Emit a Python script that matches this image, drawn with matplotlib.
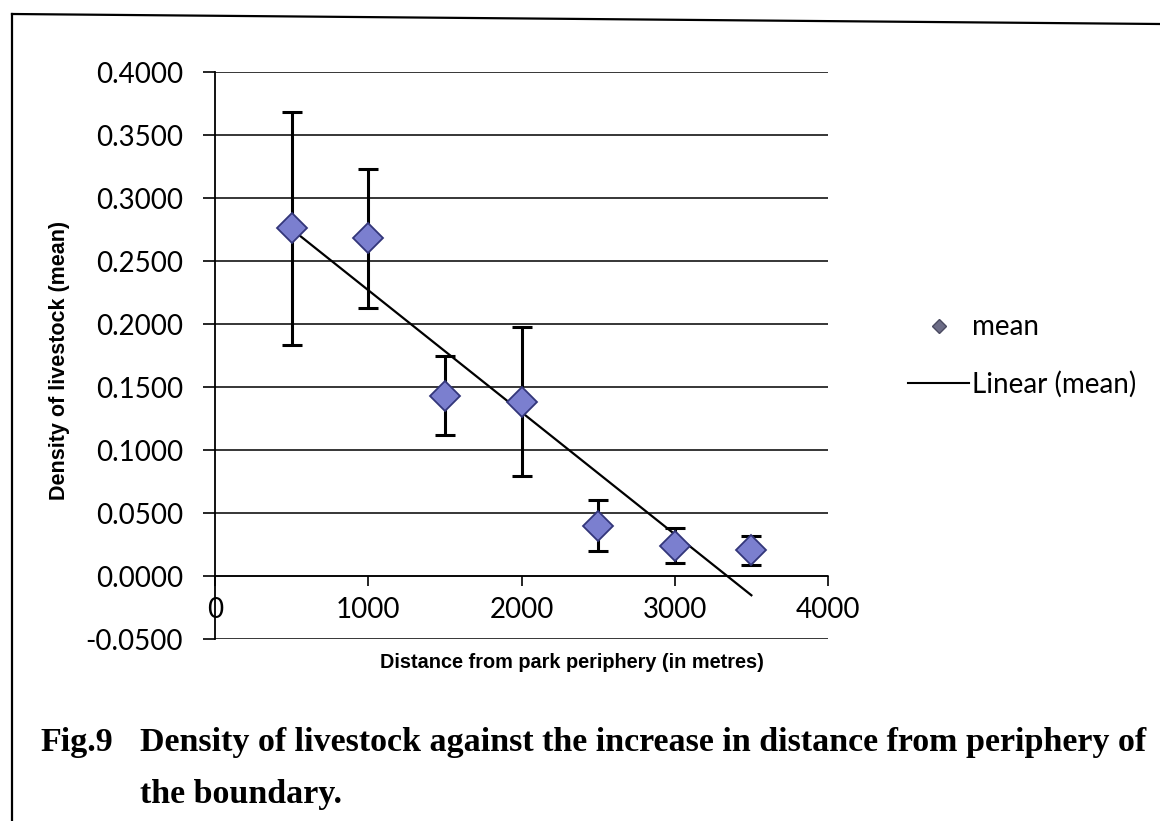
import numpy as np
import matplotlib
matplotlib.use("Agg")
import matplotlib.pyplot as plt
from matplotlib.lines import Line2D

plt.rcParams["font.family"] = ["Lato", "DejaVu Sans"]

# distance bands (m) and mean livestock density with error bar limits
distance = [500, 1000, 1500, 2000, 2500, 3000, 3500]
mean_density = [0.276, 0.268, 0.143, 0.138, 0.040, 0.024, 0.021]
upper_limit = [0.368, 0.323, 0.175, 0.198, 0.060, 0.038, 0.032]
lower_limit = [0.183, 0.213, 0.112, 0.079, 0.020, 0.010, 0.009]

y_ticks = [-0.05, 0.0, 0.05, 0.10, 0.15, 0.20, 0.25, 0.30, 0.35, 0.40]
x_ticks = [0, 1000, 2000, 3000, 4000]

x = np.array(distance)
y = np.array(mean_density)
yerr = [y - np.array(lower_limit), np.array(upper_limit) - y]

# linear trend line fitted to the means
slope, intercept = np.polyfit(x, y, 1)
trend_x = np.array([x.min(), x.max()])
trend_y = slope * trend_x + intercept

fig = plt.figure(figsize=(11.6, 8.21), dpi=100)
ax = fig.add_axes([215 / 1160, 1 - 639 / 821, 613 / 1160, 567 / 821])

for t in y_ticks:
    ax.axhline(t, color="black", lw=1.1, zorder=1)

ax.errorbar(x, y, yerr=yerr, fmt="none", ecolor="black", elinewidth=2.2,
            capsize=7, capthick=2.2, zorder=3)
ax.plot(trend_x, trend_y, color="black", lw=1.6, zorder=4)
ax.plot(x, y, linestyle="none", marker="D", markersize=15,
        markerfacecolor="#7b7fcf", markeredgecolor="#33367a",
        markeredgewidth=1.3, zorder=5)

ax.set_xlim(0, 4000)
ax.set_ylim(-0.05, 0.40)
ax.set_xticks(x_ticks)
ax.set_yticks(y_ticks)
ax.set_yticklabels([f"{v:.4f}" for v in y_ticks])

for s in ["top", "right"]:
    ax.spines[s].set_visible(False)
ax.spines["left"].set_linewidth(1.3)
ax.spines["left"].set_position(("data", 0))
ax.tick_params(axis="y", direction="out", length=9, width=1.2, pad=14,
               labelsize=20)
ax.tick_params(axis="x", direction="out", length=7, width=1.2, pad=8,
               labelsize=20)

# x tick marks sit on the zero line, like the Excel axis crossing at 0
ax.spines["bottom"].set_position(("data", 0))
ax.spines["bottom"].set_linewidth(1.1)

fig.text(60 / 1160, 1 - 360 / 821, "Density of livestock (mean)",
         rotation=90, ha="center", va="center", fontsize=15.5,
         fontweight="bold", family="Liberation Sans")
fig.text(572 / 1160, 1 - 662 / 821, "Distance from park periphery (in metres)",
         ha="center", va="center", fontsize=14.3, fontweight="bold",
         family="Liberation Sans")

handles = [
    Line2D([], [], linestyle="none", marker="D", markersize=7,
           markerfacecolor="#6c6c86", markeredgecolor="#4a4a60"),
    Line2D([], [], color="black", lw=1.5),
]
fig.legend(handles, ["mean", "Linear (mean)"], loc="center left",
           bbox_to_anchor=(897 / 1160, 1 - 356 / 821), frameon=False,
           prop={"family": "Lato", "size": 20}, handlelength=2.2,
           handletextpad=0.1, labelspacing=1.1, borderaxespad=0)

cap = {"fontsize": 24.5, "fontweight": "bold", "family": "Liberation Serif",
       "va": "center", "ha": "left"}
fig.text(40 / 1160, 1 - 742 / 821, "Fig.9", **cap)
fig.text(140 / 1160, 1 - 742 / 821,
         "Density of livestock against the increase in distance from periphery of",
         **cap)
fig.text(140 / 1160, 1 - 794 / 821, "the boundary.", **cap)

# scanned page frame
fig.add_artist(Line2D([12 / 1160, 12 / 1160], [0, 1 - 14 / 821],
                      transform=fig.transFigure, color="black", lw=1.6))
fig.add_artist(Line2D([12 / 1160, 1], [1 - 14 / 821, 1 - 24 / 821],
                      transform=fig.transFigure, color="black", lw=1.6))

fig.savefig("out.png", dpi=100)
